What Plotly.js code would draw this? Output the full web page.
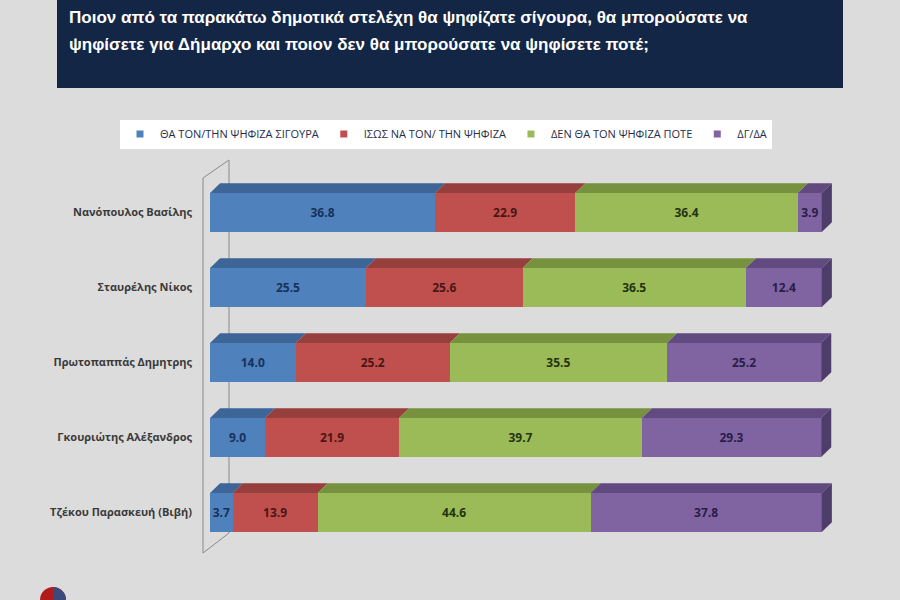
<!DOCTYPE html>
<html><head><meta charset="utf-8">
<script src="https://cdn.plot.ly/plotly-3.0.1.min.js"></script>
<style>html,body{margin:0;padding:0;background:#dcdcdc}</style>
</head><body><div id="chart" style="width:900px;height:600px"></div>
<script>
const categories = ["Νανόπουλος Βασίλης","Σταυρέλης Νίκος","Πρωτοπαππάς Δημητρης","Γκουριώτης Αλέξανδρος","Τζέκου Παρασκευή (Βιβή)"];
const seriesNames = ["ΘΑ ΤΟΝ/ΤΗΝ ΨΗΦΙΖΑ ΣΙΓΟΥΡΑ","ΙΣΩΣ ΝΑ ΤΟΝ/ ΤΗΝ ΨΗΦΙΖΑ","ΔΕΝ ΘΑ ΤΟΝ ΨΗΦΙΖΑ ΠΟΤΕ","ΔΓ/ΔΑ"];
const sure  = [36.8, 25.5, 14.0,  9.0,  3.7];
const maybe = [22.9, 25.6, 25.2, 21.9, 13.9];
const never = [36.4, 36.5, 35.5, 39.7, 44.6];
const dkna  = [ 3.9, 12.4, 25.2, 29.3, 37.8];
const titleLines = ["Ποιον από τα παρακάτω δημοτικά στελέχη θα ψηφίζατε σίγουρα, θα μπορούσατε να",
                    "ψηφίσετε για Δήμαρχο και ποιον δεν θα μπορούσατε να ψηφίσετε ποτέ;"];

const series = [sure, maybe, never, dkna];
const frontColors = ["#4f81bd","#c0504d","#9bbb59","#8064a2"];
const topColors   = ["#3d6597","#963f3d","#77923f","#604a80"];
const sideColor = "#4e3c6b";
const textColors = ["#17325a","#4a1614","#25330c","#2a1d48"];

const W=900,H=600,L=210,R=66,T=175,B=50;
const pw=W-L-R, ph=H-T-B;
const px = x => (x-L)/pw, py = y => 1-(y-T)/ph;

const ypos = categories.map((c,i)=>i);
const barW = 0.52, half = barW/2, dx = 1.65, dy = 0.13;

const traces = series.map((s,k)=>({
  type:'bar', orientation:'h', x:s, y:ypos, width:barW, name:seriesNames[k],
  marker:{color:frontColors[k], line:{width:0}}, showlegend:false,
  text:s.map(v=>v.toFixed(1)), textposition:'inside', insidetextanchor:'middle', textangle:0,
  textfont:{family:"Open Sans, sans-serif", size:12, color:textColors[k], weight:'bold'},
  constraintext:'none', hoverinfo:'skip'
}));
seriesNames.forEach((n,k)=>traces.push({
  type:'scatter', mode:'markers', x:[null], y:[null], name:n, showlegend:true,
  marker:{symbol:'square', size:7, color:frontColors[k]}
}));

const shapes = [];
// back wall
const wall = [[203,178,203,553],[203,178,229,160],[229,160,229,533],[229,533,203,553]];
wall.forEach(w=>shapes.push({type:'line', xref:'paper', yref:'paper', layer:'below',
  x0:px(w[0]), y0:py(w[1]), x1:px(w[2]), y1:py(w[3]), line:{color:'#8a8a8a', width:1}}));
// title box
shapes.push({type:'rect', xref:'paper', yref:'paper', layer:'below', x0:px(57), x1:px(843), y0:py(0), y1:py(88),
  fillcolor:'#132645', line:{width:0}});
// logo (red / navy disc)
shapes.push({type:'circle', xref:'paper', yref:'paper', layer:'above', x0:px(40), x1:px(66), y0:py(587), y1:py(613),
  fillcolor:'#b01c1c', line:{width:0}});
{
  let p = `M${px(53)},${py(587)}`;
  for(let a=-90; a<=90; a+=10){
    const r=a*Math.PI/180;
    p += ` L${px(53+13*Math.cos(r))},${py(600+13*Math.sin(r))}`;
  }
  p += ' Z';
  shapes.push({type:'path', xref:'paper', yref:'paper', layer:'above', path:p, fillcolor:'#3b4a7a', line:{width:0}});
}
// 3D faces
categories.forEach((c,i)=>{
  let cum=0;
  series.forEach((s,k)=>{
    const x0=cum, x1=cum+s[i]; cum=x1;
    const y0=i-half;
    shapes.push({type:'path', xref:'x', yref:'y', layer:'above',
      path:`M${x0},${y0} L${x1},${y0} L${x1+dx},${y0-dy} L${x0+dx},${y0-dy} Z`,
      fillcolor:topColors[k], line:{width:0}});
  });
  shapes.push({type:'path', xref:'x', yref:'y', layer:'above',
    path:`M${cum},${i-half} L${cum+dx},${i-half-dy} L${cum+dx},${i+half-dy} L${cum},${i+half} Z`,
    fillcolor:sideColor, line:{width:0}});
});

const titleFont = {family:"Liberation Sans, Arial, sans-serif", size:17, color:'#ffffff', weight:'bold'};
const annotations = titleLines.map((t,j)=>({
  text:t, xref:'paper', yref:'paper', x:px(67), y:py([18,44][j]), xanchor:'left', yanchor:'middle',
  showarrow:false, font:titleFont
}));

const layout = {
  width:W, height:H, margin:{l:L, r:R, t:T, b:B},
  paper_bgcolor:'#dcdcdc', plot_bgcolor:'rgba(0,0,0,0)',
  barmode:'stack', bargap:0.48,
  xaxis:{range:[0,102], visible:false, fixedrange:true},
  yaxis:{range:[4.5,-0.5], tickvals:ypos, ticktext:categories, showgrid:false, zeroline:false, showline:false,
    ticks:'', ticklabelstandoff:17,
    tickfont:{family:"Open Sans, sans-serif", size:11, color:'#3a3a3a', weight:'bold'}},
  showlegend:true,
  legend:{orientation:'h', traceorder:'normal', x:px(120), xanchor:'left', y:py(134), yanchor:'middle',
    bgcolor:'#ffffff', itemwidth:30,
    font:{family:"Open Sans, sans-serif", size:11, color:'#1f2d4a'}},
  annotations:annotations,
  shapes:shapes
};
Plotly.newPlot('chart', traces, layout, {displayModeBar:false, staticPlot:true});
</script></body></html>
